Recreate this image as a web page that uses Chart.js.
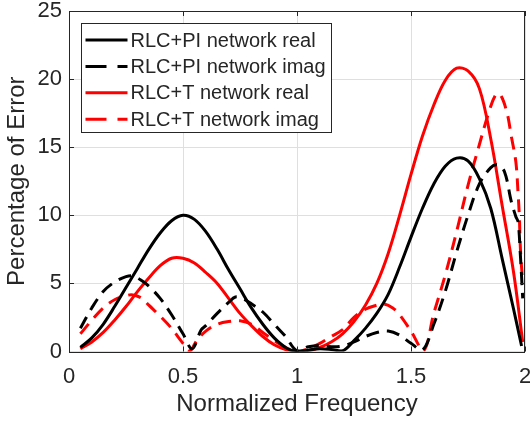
<!DOCTYPE html>
<html>
<head>
<meta charset="utf-8">
<script src="https://cdn.jsdelivr.net/npm/chart.js@4.4.1/dist/chart.umd.min.js"></script>
<style>
  html, body { margin: 0; padding: 0; background: #fff; }
  #wrap { width: 530px; height: 423px; }
</style>
</head>
<body>
<div id="wrap"><canvas id="chart" width="530" height="423"></canvas></div>
<script>
// Percentage of error vs normalized frequency, four curves

const xTicks = [0, 0.5, 1, 1.5, 2];
const yTicks = [0, 5, 10, 15, 20, 25];

const seriesNames = [
  'RLC+PI network real',
  'RLC+PI network imag',
  'RLC+T network real',
  'RLC+T network imag'
];

// RLC+PI real (black solid)
const piRealX = [0.05, 0.1, 0.15, 0.2, 0.25, 0.3, 0.35, 0.4, 0.45, 0.5, 0.55, 0.6, 0.65, 0.7, 0.75, 0.8, 0.85, 0.9, 0.95, 1.0,
  1.05, 1.1, 1.15, 1.2, 1.25, 1.3, 1.35, 1.4, 1.45, 1.5, 1.55, 1.6, 1.65, 1.7, 1.75, 1.8, 1.85, 1.9, 1.95, 1.985];
const piRealY = [0.3, 1.0, 2.0, 3.3, 4.7, 6.1, 7.5, 8.7, 9.6, 10.0, 9.7, 8.8, 7.5, 6.0, 4.6, 3.2, 2.0, 1.0, 0.3, 0.0,
  0.1, 0.2, 0.15, 0.05, 0.8, 1.7, 2.8, 4.2, 6.2, 8.4, 10.5, 12.3, 13.6, 14.2, 14.0, 12.7, 10.5, 6.8, 3.1, 0.4];

// RLC+PI imag (black dashed)
const piImagX = [0.05, 0.1, 0.15, 0.2, 0.25, 0.28, 0.32, 0.35, 0.4, 0.45, 0.5, 0.54, 0.58, 0.6, 0.65, 0.7, 0.73, 0.76, 0.8, 0.85,
  0.9, 0.95, 1.0, 1.05, 1.1, 1.15, 1.2, 1.25, 1.3, 1.35, 1.4, 1.45, 1.5, 1.55, 1.6, 1.65, 1.7, 1.75, 1.8, 1.85,
  1.88, 1.91, 1.94, 1.96, 1.97, 1.98, 1.985, 1.99];
const piImagY = [1.7, 3.2, 4.4, 5.1, 5.5, 5.55, 5.2, 4.8, 3.9, 2.7, 1.3, 0.2, 1.6, 1.9, 2.8, 3.6, 4.0, 3.9, 3.5, 2.9,
  2.0, 1.1, 0.05, 0.35, 0.45, 0.35, 0.4, 0.7, 1.1, 1.4, 1.5, 1.2, 0.6, 0.1, 2.0, 4.4, 7.3, 10.0, 12.3, 13.5,
  13.7, 13.2, 11.0, 9.9, 9.5, 7.0, 5.5, 3.9];

// RLC+T real (red solid)
const tRealX = [0.05, 0.1, 0.15, 0.2, 0.25, 0.3, 0.35, 0.4, 0.45, 0.5, 0.55, 0.6, 0.65, 0.7, 0.75, 0.8, 0.85, 0.9, 0.95, 1.0,
  1.05, 1.1, 1.15, 1.2, 1.25, 1.3, 1.35, 1.4, 1.45, 1.5, 1.55, 1.6, 1.65, 1.7, 1.75, 1.8, 1.85, 1.9, 1.95, 1.99];
const tRealY = [0.2, 0.7, 1.4, 2.3, 3.3, 4.4, 5.4, 6.3, 6.85, 6.85, 6.5, 5.8, 5.0, 3.9, 2.8, 1.9, 1.1, 0.5, 0.15, 0.02,
  0.05, 0.3, 0.7, 1.3, 2.2, 3.4, 5.0, 7.2, 10.0, 13.0, 15.8, 18.1, 19.9, 20.8, 20.6, 19.3, 15.6, 10.7, 5.8, 0.7];

// RLC+T imag (red dashed)
const tImagX = [0.05, 0.1, 0.15, 0.2, 0.25, 0.28, 0.32, 0.35, 0.4, 0.45, 0.5, 0.53, 0.56, 0.6, 0.65, 0.7, 0.75, 0.8, 0.85, 0.9,
  0.95, 1.0, 1.05, 1.1, 1.15, 1.2, 1.25, 1.3, 1.35, 1.38, 1.42, 1.45, 1.5, 1.555, 1.6, 1.65, 1.7, 1.75, 1.8, 1.84,
  1.87, 1.89, 1.92, 1.94, 1.96, 1.97, 1.975, 1.98, 1.99];
const tImagY = [1.3, 2.3, 3.2, 3.8, 4.1, 4.15, 3.9, 3.4, 2.6, 1.7, 0.6, 0.05, 0.8, 1.5, 2.0, 2.2, 2.25, 2.0, 1.4, 0.8,
  0.3, 0.0, 0.2, 0.6, 1.1, 1.6, 2.5, 3.1, 3.4, 3.5, 3.2, 2.7, 1.5, 0.05, 2.8, 5.6, 8.8, 12.2, 15.2, 17.5,
  18.8, 18.9, 17.6, 15.8, 13.9, 11.5, 10.0, 7.5, 5.0];

const FONT = "'Liberation Sans', Arial, Helvetica, sans-serif";
const AXIS = '#262626';
const GRID = '#dfdfdf';
const DASH = [13, 8];

function pts(xs, ys) {
  return xs.map((x, i) => ({ x: x, y: ys[i] }));
}

function line(label, xs, ys, color, dashed) {
  return {
    label: label,
    data: pts(xs, ys),
    borderColor: color,
    backgroundColor: color,
    borderWidth: 3,
    borderDash: dashed ? DASH : [],
    pointRadius: 0,
    fill: false,
    tension: 0.35
  };
}

// box, inward ticks and the legend, MATLAB style
const frame = {
  id: 'frame',
  afterDatasetsDraw(chart) {
    const { ctx, chartArea: a, scales } = chart;
    const x = scales.x, y = scales.y;
    ctx.save();
    ctx.strokeStyle = AXIS;
    ctx.lineWidth = 1;
    ctx.setLineDash([]);
    ctx.beginPath();
    x.ticks.forEach(t => {
      const px = Math.round(x.getPixelForValue(t.value)) + 0.5;
      ctx.moveTo(px, a.bottom); ctx.lineTo(px, a.bottom - 5);
      ctx.moveTo(px, a.top); ctx.lineTo(px, a.top + 5);
    });
    y.ticks.forEach(t => {
      const py = Math.round(y.getPixelForValue(t.value)) + 0.5;
      ctx.moveTo(a.left, py); ctx.lineTo(a.left + 5, py);
      ctx.moveTo(a.right, py); ctx.lineTo(a.right - 5, py);
    });
    ctx.stroke();
    ctx.strokeRect(Math.round(a.left) + 0.5, Math.round(a.top) + 0.5,
      Math.round(a.right - a.left) - 1, Math.round(a.bottom - a.top));

    // legend
    const lx = Math.round(a.left + 12) + 0.5;
    const ly = Math.round(a.top + 12) + 0.5;
    const lw = 250, lh = 109;
    ctx.fillStyle = '#fff';
    ctx.fillRect(lx, ly, lw, lh);
    ctx.strokeRect(lx, ly, lw, lh);
    ctx.font = '20px ' + FONT;
    ctx.textBaseline = 'middle';
    ctx.textAlign = 'left';
    chart.data.datasets.forEach((ds, i) => {
      const ry = ly + 16.5 + i * 26.4;
      ctx.beginPath();
      ctx.strokeStyle = ds.borderColor;
      ctx.lineWidth = 3;
      ctx.setLineDash(ds.borderDash.length ? [21, 11] : []);
      ctx.moveTo(lx + 4, ry);
      ctx.lineTo(lx + 46, ry);
      ctx.stroke();
      ctx.fillStyle = AXIS;
      ctx.fillText(ds.label, lx + 49, ry + 1);
    });
    ctx.restore();
  }
};

new Chart(document.getElementById('chart'), {
  type: 'line',
  data: {
    datasets: [
      line(seriesNames[0], piRealX, piRealY, '#000000', false),
      line(seriesNames[1], piImagX, piImagY, '#000000', true),
      line(seriesNames[2], tRealX, tRealY, '#ff0000', false),
      line(seriesNames[3], tImagX, tImagY, '#ff0000', true)
    ]
  },
  options: {
    responsive: false,
    animation: false,
    devicePixelRatio: 1,
    layout: { padding: { top: 11, right: 5, left: 0, bottom: 0 } },
    plugins: {
      legend: { display: false },
      tooltip: { enabled: false }
    },
    scales: {
      x: {
        type: 'linear',
        min: xTicks[0],
        max: xTicks[xTicks.length - 1],
        afterBuildTicks: s => { s.ticks = xTicks.map(v => ({ value: v })); },
        afterFit: s => { s.height = 71.5; s.paddingLeft = 0; s.paddingRight = 0; },
        grid: { color: GRID, drawTicks: false },
        border: { display: false },
        ticks: {
          color: AXIS, font: { family: FONT, size: 22 }, padding: 12, maxRotation: 0,
          callback: v => String(v)
        },
        title: {
          display: true, text: 'Normalized Frequency', color: AXIS,
          font: { family: FONT, size: 24 }, padding: { top: 0, bottom: 4 }
        }
      },
      y: {
        type: 'linear',
        min: yTicks[0],
        max: yTicks[yTicks.length - 1],
        afterBuildTicks: s => { s.ticks = yTicks.map(v => ({ value: v })); },
        afterFit: s => { s.width = 69; s.paddingTop = 0; s.paddingBottom = 0; },
        grid: { color: GRID, drawTicks: false },
        border: { display: false },
        ticks: { color: AXIS, font: { family: FONT, size: 22 }, padding: 7, callback: v => String(v) },
        title: {
          display: true, text: 'Percentage of Error', color: AXIS,
          font: { family: FONT, size: 24 }, padding: { top: 3, bottom: 0 }
        }
      }
    }
  },
  plugins: [frame]
});
</script>
</body>
</html>
